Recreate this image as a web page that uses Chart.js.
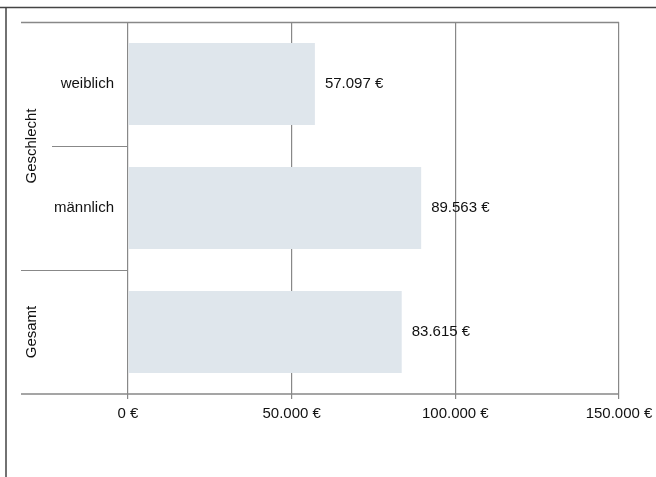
<!DOCTYPE html>
<html>
<head>
<meta charset="utf-8">
<script src="https://cdn.jsdelivr.net/npm/chart.js@4"></script>
<style>
  html, body { margin: 0; padding: 0; background: #fff; }
  #wrap { width: 656px; height: 477px; }
</style>
</head>
<body>
<div id="wrap"><canvas id="chart" width="656" height="477"></canvas></div>
<script>
// Daten
const categories = ["weiblich", "männlich", "Gesamt"];
const innerLabels = ["weiblich", "männlich", ""];
const groupLabels = ["Geschlecht", "Geschlecht", "Gesamt"];
const values = [57097, 89563, 83615];
const xTicks = [0, 50000, 100000, 150000];

const FONT = "15px 'Liberation Sans', Arial, sans-serif";
const LINE = "#888";

function euro(v) {
  return Number(v).toLocaleString("de-DE") + " €";
}

// Rahmen, Kategorienspalten und Wertbeschriftungen
const tablePlugin = {
  id: "tablePlugin",
  beforeDraw(chart) {
    const c = chart.ctx;
    c.save();
    c.fillStyle = "#fff";
    c.fillRect(0, 0, chart.width, chart.height);
    // äußerer Rahmen (oben + links)
    c.strokeStyle = "#444";
    c.lineWidth = 1.5;
    c.beginPath();
    c.moveTo(0, 7.5);
    c.lineTo(chart.width, 7.5);
    c.moveTo(6, 7);
    c.lineTo(6, chart.height);
    c.stroke();
    c.restore();
  },
  afterDraw(chart) {
    const c = chart.ctx;
    const area = chart.chartArea;
    const yScale = chart.scales.y;
    const outerLeft = area.left - yScale.width;
    const innerLeft = outerLeft + 31;
    const n = categories.length;

    const bound = (i) => {
      if (i <= 0) return area.top;
      if (i >= n) return area.bottom;
      return (yScale.getPixelForValue(i - 1) + yScale.getPixelForValue(i)) / 2;
    };

    c.save();
    c.strokeStyle = LINE;
    c.lineWidth = 1.5;
    // top + bottom lines across everything
    c.beginPath();
    c.moveTo(outerLeft, Math.round(area.top) + 0.5);
    c.lineTo(area.right, Math.round(area.top) + 0.5);
    c.moveTo(outerLeft, Math.round(area.bottom));
    c.lineTo(area.right, Math.round(area.bottom));
    c.stroke();

    // separators between categories
    c.lineWidth = 1;
    for (let i = 1; i < n; i++) {
      const y = Math.round(bound(i)) + 0.5;
      const sameGroup = groupLabels[i] === groupLabels[i - 1];
      c.beginPath();
      c.moveTo(sameGroup ? innerLeft : outerLeft, y);
      c.lineTo(area.left, y);
      c.stroke();
    }

    c.fillStyle = "#111";
    c.font = FONT;
    c.textBaseline = "middle";

    // innere Beschriftungen (rechtsbündig)
    c.textAlign = "right";
    innerLabels.forEach((lab, i) => {
      if (!lab) return;
      c.fillText(lab, area.left - 14, yScale.getPixelForValue(i));
    });

    // Gruppenbeschriftungen (gedreht)
    let start = 0;
    for (let i = 1; i <= n; i++) {
      if (i === n || groupLabels[i] !== groupLabels[start]) {
        const yMid = (bound(start) + bound(i)) / 2;
        c.save();
        c.translate(outerLeft + 11, yMid);
        c.rotate(-Math.PI / 2);
        c.textAlign = "center";
        c.fillText(groupLabels[start], 0, 0);
        c.restore();
        start = i;
      }
    }

    // Wertbeschriftungen
    const meta = chart.getDatasetMeta(0);
    c.textAlign = "left";
    meta.data.forEach((bar, i) => {
      c.fillText(euro(values[i]), bar.x + 10, bar.y);
    });
    c.restore();
  },
};

new Chart(document.getElementById("chart"), {
  type: "bar",
  data: {
    labels: categories,
    datasets: [
      {
        data: values,
        backgroundColor: "#dfe6ec",
        borderWidth: 0,
        barPercentage: 0.66,
        categoryPercentage: 1,
      },
    ],
  },
  options: {
    indexAxis: "y",
    responsive: false,
    animation: false,
    events: [],
    layout: { padding: { left: 21, top: 22, right: 37, bottom: 43 } },
    plugins: {
      legend: { display: false },
      tooltip: { enabled: false },
    },
    scales: {
      x: {
        min: 0,
        max: 150000,
        afterBuildTicks: (scale) => {
          scale.ticks = xTicks.map((v) => ({ value: v }));
        },
        afterFit: (scale) => {
          scale.height = 40;
          scale.paddingRight = 0;
        },
        grid: {
          color: LINE,
          lineWidth: 1.2,
          tickLength: 5,
          drawOnChartArea: true,
        },
        border: { display: false },
        ticks: {
          color: "#111",
          font: { family: "'Liberation Sans', Arial, sans-serif", size: 15 },
          padding: 6,
          maxRotation: 0,
          callback: (v) => euro(v),
        },
      },
      y: {
        afterFit: (scale) => {
          scale.width = 107;
        },
        grid: { display: false },
        border: { display: false },
        ticks: { display: false },
      },
    },
  },
  plugins: [tablePlugin],
});
</script>
</body>
</html>
